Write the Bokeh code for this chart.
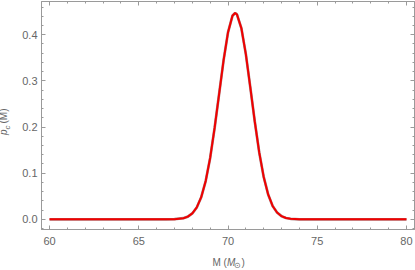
import math
from bokeh.plotting import figure
from bokeh.models import Range1d, LinearAxis, FixedTicker, Label
from bokeh.embed import file_html
from bokeh.resources import INLINE

# data
mass = [60, 62, 64, 65, 66, 66.5, 67, 67.5, 67.75, 68, 68.25, 68.5, 68.75,
        69, 69.25, 69.5, 69.75, 70, 70.25, 70.4, 70.5, 70.75, 71, 71.25,
        71.5, 71.75, 72, 72.25, 72.5, 72.75, 73, 73.25, 73.5, 74, 75, 76, 78, 80]
prob = [0, 0, 0, 0, 0, 0.0, 0.0004, 0.0025, 0.0059, 0.0128, 0.0258, 0.048, 0.083,
        0.133, 0.198, 0.271, 0.344, 0.405, 0.441, 0.447, 0.444, 0.414, 0.358, 0.286,
        0.212, 0.145, 0.092, 0.054, 0.029, 0.0148, 0.0069, 0.003, 0.0012, 0.0001, 0, 0, 0, 0]
x_major = [60, 65, 70, 75, 80]
x_minor = [v for v in range(59, 82)]
y_major = [0.0, 0.1, 0.2, 0.3, 0.4]
y_minor = [round(-0.02 + 0.02 * i, 2) for i in range(25)]
y_labels = {0.0: "0.0", 0.1: "0.1", 0.2: "0.2", 0.3: "0.3", 0.4: "0.4"}

FRAME = "#9a9a9a"
TXT = "#666666"
FONT = "Liberation Sans"

p = figure(width=415, height=270, output_backend="svg", toolbar_location=None,
           x_range=Range1d(59.55, 80.45), y_range=Range1d(-0.022, 0.472),
           min_border_left=41, min_border_right=1, min_border_top=1, min_border_bottom=41)
p.grid.visible = False
p.outline_line_color = FRAME
p.background_fill_color = "white"
p.border_fill_color = "white"

def style(ax):
    ax.axis_line_color = FRAME
    ax.major_tick_line_color = FRAME
    ax.minor_tick_line_color = FRAME
    ax.major_tick_in = 4
    ax.major_tick_out = 0
    ax.minor_tick_in = 2
    ax.minor_tick_out = 0
    ax.major_label_text_color = TXT
    ax.major_label_text_font = FONT
    ax.major_label_text_font_size = "11px"
    ax.major_label_standoff = 5

p.xaxis.ticker = FixedTicker(ticks=x_major, minor_ticks=x_minor)
p.yaxis.ticker = FixedTicker(ticks=y_major, minor_ticks=y_minor)
p.yaxis.major_label_overrides = y_labels
for ax in p.xaxis + p.yaxis:
    style(ax)
p.xaxis.major_label_standoff = 7
p.yaxis.major_label_standoff = 4

top = LinearAxis(ticker=FixedTicker(ticks=x_major, minor_ticks=x_minor))
right = LinearAxis(ticker=FixedTicker(ticks=y_major, minor_ticks=y_minor))
for ax, ticks in ((top, x_major), (right, y_major)):
    style(ax)
    ax.major_label_overrides = {t: "" for t in ticks}
    ax.major_label_standoff = 0
p.add_layout(top, "above")
p.add_layout(right, "right")

p.line(mass, prob, line_color="#662222", line_width=2.7, line_alpha=0.55)
p.line(mass, prob, line_color="#f00000", line_width=2.0)

# Labels sit in side panels (not clipped); a trailing empty line with
# line height -1 gives them zero extent so the frame does not move.
def lab(side, text, x, y, size="10px", style="normal", angle=0.0):
    p.add_layout(Label(x=x, y=y, text=text + "\n", text_font=FONT, text_font_size=size,
                       text_font_style=style, text_color=TXT, angle=angle,
                       text_line_height=-1.0,
                       text_align="left", text_baseline="top"), side)

lab("below", "M (", 69.131, -0.081)
lab("below", "M", 69.944, -0.081, style="italic")
lab("below", "\u2299", 70.364, -0.0895, size="8px")
lab("below", ")", 70.756, -0.081)

lab("left", "p", 57.134, 0.1828, style="italic", angle=math.pi / 2)
lab("left", "c", 57.375, 0.1949, size="8px", style="italic", angle=math.pi / 2)
lab("left", "(M)", 57.134, 0.2077, angle=math.pi / 2)

open("out.html", "w").write(file_html(p, INLINE))
